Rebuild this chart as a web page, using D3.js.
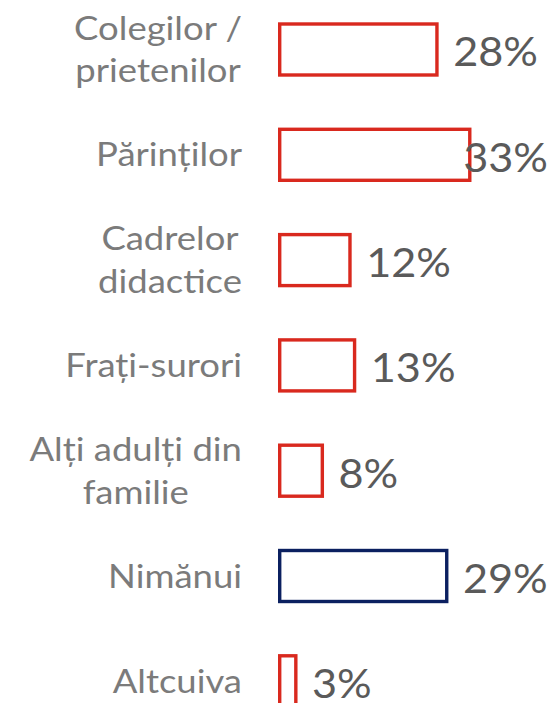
<!DOCTYPE html>
<html>
<head>
<meta charset="utf-8">
<script src="https://cdn.jsdelivr.net/npm/d3@7/dist/d3.min.js"></script>
<style>
  body { margin: 0; background: #fff; }
  svg { display: block; font-family: Lato, "Open Sans", sans-serif; }
</style>
</head>
<body>
<svg id="chart"></svg>
<script>
// who did they talk to - share of answers (%)
var categories = [
  "Colegilor /\nprietenilor",
  "Părinților",
  "Cadrelor\ndidactice",
  "Frați-surori",
  "Alți adulți din\nfamilie",
  "Nimănui",
  "Altcuiva"
];
var values = [27.3, 33.0, 12.2, 13.0, 7.4, 29.0, 2.8];
var shownPct = ["28%", "33%", "12%", "13%", "8%", "29%", "3%"];

var highlight = "Nimănui";

var screen = {width: 554, height: 703};
var barLeft = 278;      // outer left edge of bars
var labelRight = 242;   // right edge of category labels
var sw = 3.4;           // bar outline width
var lineH = 43;
var catStretch = 1.14;  // reference text is set wide
var valStretch = 1.08;

var svg = d3.select("#chart")
    .attr("width", screen.width)
    .attr("height", screen.height);

var yScale = d3.scaleBand()
    .domain(categories)
    .range([22.3, 708.5])
    .paddingInner(0.4834)
    .paddingOuter(0);

var xScale = d3.scaleLinear()
    .domain([0, 100])
    .range([0, 576]);

var rows = categories.map(function(c, i) {
    return {cat: c, value: values[i], label: shownPct[i]};
});

// bars (outline only)
svg.append("g")
    .selectAll("rect")
    .data(rows)
    .enter()
    .append("rect")
    .attr("x", barLeft + sw / 2)
    .attr("y", function(d) { return yScale(d.cat) + sw / 2; })
    .attr("width", function(d) { return xScale(d.value); })
    .attr("height", yScale.bandwidth() - sw)
    .attr("fill", "#fff")
    .attr("stroke", function(d) { return d.cat == highlight ? "#0b2060" : "#d9291e"; })
    .attr("stroke-width", sw);

// value labels, pushed back inside the page when they would run off
svg.append("g")
    .selectAll("g")
    .data(rows)
    .enter()
    .append("g")
    .each(function(d) {
        var g = d3.select(this);
        var t = g.append("text")
            .attr("font-size", 40)
            .attr("fill", "#5a5a5a")
            .attr("dy", "0.42em")
            .text(d.label);
        var w = t.node().getComputedTextLength() * valStretch;
        var end = barLeft + xScale(d.value) + sw;
        var x = Math.min(end + 14.5, screen.width - 6 - w);
        var y = yScale(d.cat) + yScale.bandwidth() / 2;
        g.attr("transform", "translate(" + x + "," + y + ") scale(" + valStretch + ",1)");
    });

// category labels, lines centred inside a right-aligned block
svg.append("g")
    .selectAll("g")
    .data(rows)
    .enter()
    .append("g")
    .each(function(d) {
        var g = d3.select(this);
        var lines = d.cat.split("\n");
        var mid = yScale(d.cat) + yScale.bandwidth() / 2;
        var first = -(lines.length - 1) * lineH / 2 + 11.5;
        var t = g.append("text")
            .attr("font-size", 32)
            .attr("fill", "#7b7b7b")
            .attr("text-anchor", "middle");
        var spans = lines.map(function(line, i) {
            return t.append("tspan")
                .attr("x", 0)
                .attr("y", first + i * lineH)
                .text(line);
        });
        var maxW = d3.max(spans, function(s) { return s.node().getComputedTextLength(); }) * catStretch;
        g.attr("transform", "translate(" + (labelRight - maxW / 2) + "," + mid + ") scale(" + catStretch + ",1)");
    });
</script>
</body>
</html>
